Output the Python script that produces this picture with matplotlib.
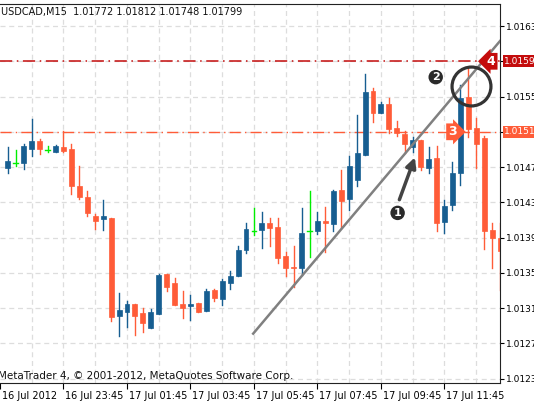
import numpy as np
import matplotlib.pyplot as plt
from matplotlib.patches import Rectangle
import matplotlib.transforms as mtransforms

# OHLC of the 15 minute candles
opens = [1.01469, 1.01475, 1.01475, 1.01491, 1.01500, 1.01489, 1.01487, 1.01493, 1.01491, 1.01448,
         1.01436, 1.01415, 1.01411, 1.01412, 1.01301, 1.01306, 1.01315, 1.01304, 1.01287, 1.01303,
         1.01349, 1.01338, 1.01315, 1.01312, 1.01316, 1.01307, 1.01330, 1.01320, 1.01338, 1.01346,
         1.01376, 1.01398, 1.01399, 1.01406, 1.01402, 1.01369, 1.01357, 1.01356, 1.01398, 1.01397,
         1.01409, 1.01405, 1.01444, 1.01434, 1.01455, 1.01484, 1.01556, 1.01531, 1.01542, 1.01514,
         1.01508, 1.01493, 1.01501, 1.01469, 1.01480, 1.01408, 1.01427, 1.01463, 1.01550, 1.01514,
         1.01503, 1.01399, 1.01390]
highs = [1.01493, 1.01489, 1.01496, 1.01525, 1.01502, 1.01494, 1.01495, 1.01511, 1.01496, 1.01471,
         1.01443, 1.01417, 1.01433, 1.01412, 1.01327, 1.01318, 1.01315, 1.01310, 1.01309, 1.01349,
         1.01349, 1.01344, 1.01329, 1.01325, 1.01316, 1.01332, 1.01332, 1.01343, 1.01352, 1.01380,
         1.01406, 1.01424, 1.01419, 1.01412, 1.01412, 1.01374, 1.01381, 1.01424, 1.01443, 1.01419,
         1.01425, 1.01444, 1.01467, 1.01482, 1.01529, 1.01576, 1.01560, 1.01544, 1.01548, 1.01522,
         1.01511, 1.01504, 1.01501, 1.01493, 1.01494, 1.01433, 1.01476, 1.01563, 1.01582, 1.01526,
         1.01505, 1.01407, 1.01406]
lows = [1.01463, 1.01471, 1.01468, 1.01482, 1.01485, 1.01487, 1.01487, 1.01487, 1.01439, 1.01434,
        1.01415, 1.01400, 1.01399, 1.01295, 1.01278, 1.01288, 1.01279, 1.01283, 1.01287, 1.01303,
        1.01329, 1.01314, 1.01299, 1.01296, 1.01306, 1.01307, 1.01318, 1.01314, 1.01332, 1.01346,
        1.01372, 1.01393, 1.01378, 1.01381, 1.01361, 1.01346, 1.01334, 1.01348, 1.01368, 1.01394,
        1.01374, 1.01397, 1.01401, 1.01421, 1.01448, 1.01484, 1.01521, 1.01531, 1.01509, 1.01505,
        1.01486, 1.01487, 1.01467, 1.01463, 1.01397, 1.01395, 1.01421, 1.01450, 1.01504, 1.01469,
        1.01377, 1.01356, 1.01330]
closes = [1.01477, 1.01475, 1.01494, 1.01500, 1.01491, 1.01489, 1.01494, 1.01488, 1.01448, 1.01436,
          1.01418, 1.01409, 1.01414, 1.01300, 1.01308, 1.01315, 1.01301, 1.01293, 1.01306, 1.01348,
          1.01334, 1.01314, 1.01310, 1.01315, 1.01306, 1.01329, 1.01322, 1.01341, 1.01346, 1.01376,
          1.01400, 1.01398, 1.01407, 1.01401, 1.01367, 1.01356, 1.01355, 1.01395, 1.01398, 1.01409,
          1.01406, 1.01443, 1.01432, 1.01471, 1.01486, 1.01555, 1.01531, 1.01542, 1.01513, 1.01509,
          1.01496, 1.01501, 1.01470, 1.01479, 1.01407, 1.01426, 1.01463, 1.01548, 1.01513, 1.01496,
          1.01398, 1.01390, 1.01375]

price_ticks = [1.0163, 1.0159, 1.0155, 1.0151, 1.0147, 1.0143, 1.0139, 1.0135, 1.0131, 1.0127, 1.0123]
time_pos = [-1, 7, 15, 23, 31, 39, 47, 55]
time_labels = ['16 Jul 2012', '16 Jul 23:45', '17 Jul 01:45', '17 Jul 03:45',
               '17 Jul 05:45', '17 Jul 07:45', '17 Jul 09:45', '17 Jul 11:45']

level_high = 1.0159
level_low = 1.0151
trend_x = [30.9, 62]
trend_y = [1.01281, 1.01613]

BLUE = '#175E91'
ORANGE = '#FF5C38'
GREEN = '#00EE00'
DARKRED = '#C40C0C'

fig = plt.figure(figsize=(5.34, 4.03), dpi=100)
ax = fig.add_axes([0, 20 / 403, 500 / 534, 379 / 403])
ax.set_xlim(-0.5, 62)
ax.set_ylim(1.01225, 1.01655)

# grid
for gx in range(3, 62, 4):
    ax.axvline(gx, color='#dddddd', lw=0.9, ls=(0, (4, 3)), zorder=0)
for p in price_ticks:
    ax.axhline(p, color='#dddddd', lw=0.9, ls=(0, (4, 3)), zorder=0)

# candles
w = 0.62
for i, (o, h, l, c) in enumerate(zip(opens, highs, lows, closes)):
    if o == c:
        col = GREEN
        ax.plot([i, i], [l, h], color=col, lw=1, zorder=2)
        ax.plot([i - w / 2, i + w / 2], [o, o], color=col, lw=1, zorder=2)
        continue
    col = BLUE if c > o else ORANGE
    ax.plot([i, i], [l, h], color=col, lw=1, zorder=2)
    ax.add_patch(Rectangle((i - w / 2, min(o, c)), w, max(abs(c - o), 0.000012),
                           facecolor=col, edgecolor=col, lw=0.5, zorder=3))

# levels and trend line
ax.axhline(level_high, color=DARKRED, lw=1.1, ls=(0, (8, 3, 1, 3)), zorder=1)
ax.axhline(level_low, color=ORANGE, lw=1.0, ls=(0, (8, 3, 1, 3)), zorder=1)
ax.plot(trend_x, trend_y, color='#808080', lw=1.8, zorder=4)

# annotations
ax.plot([58.3], [1.01562], marker='o', ms=28, mfc='none', mec='#333333', mew=2.3, zorder=5)
ax.annotate('', xy=(51.4, 1.01484), xytext=(49.2, 1.01430),
            arrowprops=dict(arrowstyle='-|>,head_width=0.3,head_length=0.6',
                            color='#444444', lw=2.5), zorder=5)
for num, x, y in [('1', 49.1, 1.01418), ('2', 53.9, 1.01572)]:
    ax.text(x, y, num, color='white', fontsize=8, fontweight='bold', ha='center', va='center',
            bbox=dict(boxstyle='circle,pad=0.2', fc='#2a2a2a', ec='none'), zorder=6)
ax.text(56.0, level_low, '3', color='white', fontsize=9, fontweight='bold', ha='center', va='center',
        bbox=dict(boxstyle='rarrow,pad=0.15', fc=ORANGE, ec='none'), zorder=6)
ax.text(60.9, level_high, '4', color='white', fontsize=9, fontweight='bold', ha='center', va='center',
        bbox=dict(boxstyle='larrow,pad=0.15', fc=DARKRED, ec='none'), zorder=6)

# axes styling
ax.yaxis.tick_right()
ax.set_yticks(price_ticks)
ax.set_yticklabels(['' if p in (level_high, level_low) else '%.4f' % p for p in price_ticks],
                   fontsize=6.5)
ax.set_xticks(time_pos)
ax.set_xticklabels(time_labels, fontsize=7, ha='left')
ax.tick_params(axis='x', length=4, pad=2)
ax.tick_params(axis='y', length=3, pad=1)
for lab in ax.get_xticklabels():
    lab.set_transform(lab.get_transform() + mtransforms.ScaledTranslation(2 / 100, 0, fig.dpi_scale_trans))
ax.spines['left'].set_visible(False)
for s in ['top', 'right', 'bottom']:
    ax.spines[s].set_color('#222222')

# price tags on the axis
yt = ax.get_yaxis_transform()
for lvl, col in [(level_high, DARKRED), (level_low, ORANGE)]:
    ax.text(1.008, lvl, '%.4f' % lvl, transform=yt, color='white', fontsize=6.5,
            va='center', ha='left', clip_on=False, zorder=7,
            bbox=dict(boxstyle='square,pad=0.15', fc=col, ec='none'))

ax.text(0.002, 0.978, 'USDCAD,M15  1.01772 1.01812 1.01748 1.01799', transform=ax.transAxes,
        fontsize=7, va='center', ha='left', color='#111111')
ax.text(-0.005, 0.018, 'MetaTrader 4, \u00a9 2001-2012, MetaQuotes Software Corp.', transform=ax.transAxes,
        fontsize=7.5, va='center', ha='left', color='#111111')

fig.savefig('out.png', dpi=100)
